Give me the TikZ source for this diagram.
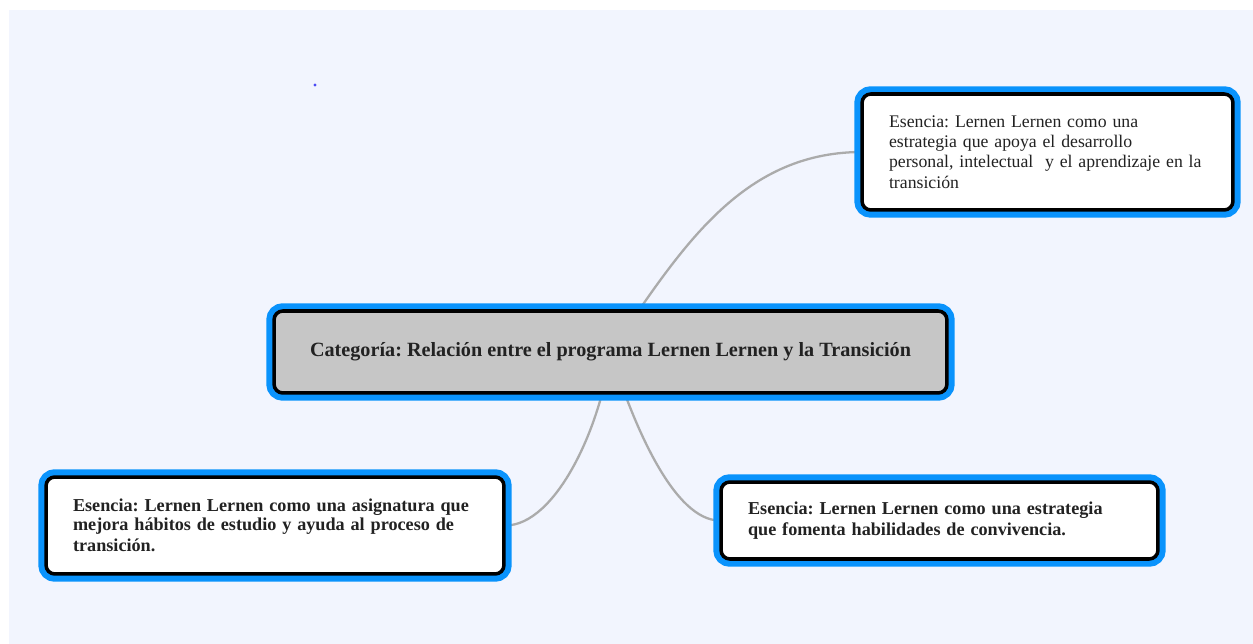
\documentclass[tikz,border=0pt]{standalone}
\usepackage{fontspec}
\setmainfont{Liberation Serif}
\frenchspacing
\pgfdeclarelayer{background}
\pgfdeclarelayer{connectors}
\pgfsetlayers{background,connectors,main}
\definecolor{mapblue}{HTML}{0A93FC}
\definecolor{mapbg}{HTML}{F2F5FE}
\definecolor{mapgrey}{HTML}{C6C6C6}
\definecolor{linkgrey}{HTML}{ABABAB}
\definecolor{maptext}{HTML}{222222}
\definecolor{dotblue}{HTML}{4A4AF5}
\begin{document}
\begin{tikzpicture}[x=0.02cm,y=-0.02cm,
	mapnode/.style={draw=black,line width=2pt,rounded corners=5pt,
		preaction={draw=mapblue,line width=8.8pt},text=maptext,
		inner xsep=0.54cm,inner ysep=0pt},
	esencia/.style={mapnode,fill=white,align=left},
	categoria/.style={mapnode,fill=mapgrey,align=center},
	link/.style={draw=linkgrey,line width=1.3pt}]
			\newcommand{\myfontbranch}[1]{
				\fontsize{10.1}{11.5}\selectfont{#1}
			}\newcommand{\myfontbold}[1]{
				\fontsize{10.35}{10.8}\selectfont\bfseries{#1}
			}%Canvas
			\useasboundingbox (0,0) rectangle (1253,644);
			\begin{pgfonlayer}{background}
				\fill[white] (0,0) rectangle (1253,644);
				\fill[mapbg] (9,10) rectangle (1253,644);
			\end{pgfonlayer}
			%Stray dot
			\fill[dotblue] (315,85) circle (0.9pt);
			%Central category
			\node [categoria,minimum width=13.46cm,minimum height=1.64cm] (cat) at (610.5,352)
				{\fontsize{11.5}{13}\selectfont\bfseries Categoría: Relación entre el programa Lernen Lernen y la Transición};
			%Essences
			\node [esencia,text width=6.34cm,minimum height=2.32cm] (desarrollo) at (1047.5,152)
				{\myfontbranch{Esencia: Lernen Lernen como una\\estrategia que apoya el desarrollo\\personal, intelectual\ \ y el aprendizaje en la\\transición}};
			\node [esencia,text width=8.08cm,minimum height=1.94cm] (asignatura) at (275,525.5)
				{\myfontbold{Esencia: Lernen Lernen como una asignatura que\\mejora hábitos de estudio y ayuda al proceso de\\transición.}};
			\node [esencia,text width=7.66cm,minimum height=1.54cm] (convivencia) at (939.5,520.5)
				{\myfontbold{Esencia: Lernen Lernen como una estrategia\\que fomenta habilidades de convivencia.}};
			%Branches
			\begin{pgfonlayer}{connectors}
				\draw [link] (cat.center) .. controls (680,250) and (740,153) .. (desarrollo.west);
				\draw [link] (cat.center) .. controls (600,430) and (555,525) .. (asignatura.east);
				\draw [link] (cat.center) .. controls (635,430) and (675,520) .. (convivencia.west);
			\end{pgfonlayer}
			\end{tikzpicture}
\end{document}
